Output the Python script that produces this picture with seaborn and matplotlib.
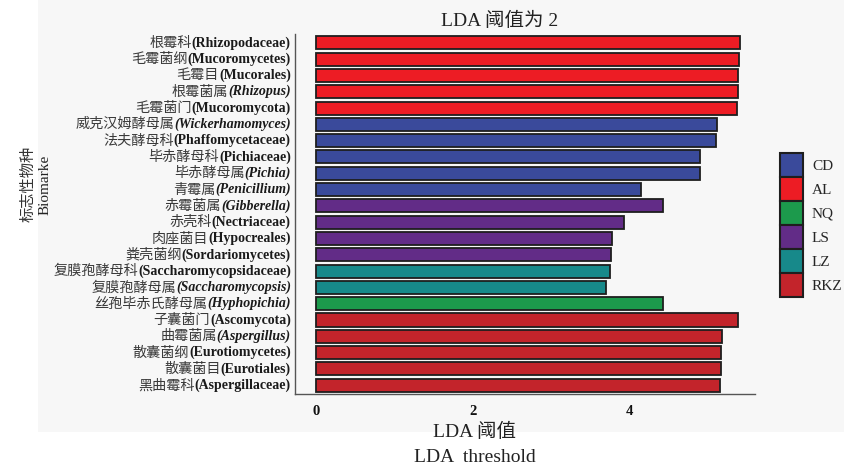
import matplotlib
matplotlib.use("Agg")
import matplotlib.pyplot as plt
import matplotlib.transforms as mtrans
from matplotlib.patches import Patch, Rectangle
import pandas as pd
import seaborn as sns

# LDA scores of the biomarker taxa (top to bottom)
cn_names = [
    "根霉科", "毛霉菌纲", "毛霉目", "根霉菌属", "毛霉菌门",
    "威克汉姆酵母属", "法夫酵母科", "毕赤酵母科", "毕赤酵母属", "青霉属",
    "赤霉菌属", "赤壳科", "肉座菌目", "粪壳菌纲",
    "复膜孢酵母科", "复膜孢酵母属", "丝孢毕赤氏酵母属",
    "子囊菌门", "曲霉菌属", "散囊菌纲", "散囊菌目", "黑曲霉科",
]
latin_names = [
    "Rhizopodaceae", "Mucoromycetes", "Mucorales", "Rhizopus", "Mucoromycota",
    "Wickerhamomyces", "Phaffomycetaceae", "Pichiaceae", "Pichia", "Penicillium",
    "Gibberella", "Nectriaceae", "Hypocreales", "Sordariomycetes",
    "Saccharomycopsidaceae", "Saccharomycopsis", "Hyphopichia",
    "Ascomycota", "Aspergillus", "Eurotiomycetes", "Eurotiales", "Aspergillaceae",
]
is_genus = [
    False, False, False, True, False,
    True, False, False, True, True,
    True, False, False, False,
    False, True, True,
    False, True, False, False, False,
]
lda_scores = [
    5.41, 5.40, 5.38, 5.38, 5.37,
    5.11, 5.10, 4.90, 4.90, 4.15,
    4.43, 3.93, 3.78, 3.77,
    3.75, 3.70, 4.43,
    5.38, 5.18, 5.17, 5.17, 5.16,
]
groups = [
    "AL", "AL", "AL", "AL", "AL",
    "CD", "CD", "CD", "CD", "CD",
    "LS", "LS", "LS", "LS",
    "LZ", "LZ", "NQ",
    "RKZ", "RKZ", "RKZ", "RKZ", "RKZ",
]
group_order = ["CD", "AL", "NQ", "LS", "LZ", "RKZ"]
group_colors = ["#3a4a9b", "#ed1c24", "#1c9a4c", "#622c87", "#17898a", "#c3242b"]
x_ticks = [0, 2, 4]

SERIF = "Liberation Serif"
CJK = "Noto Sans CJK SC"
MIXED = [SERIF, CJK]

sns.set_style("white")
plt.rcParams["font.family"] = MIXED

df = pd.DataFrame({
    "taxon": [f"{c}({l})" for c, l in zip(cn_names, latin_names)],
    "lda": lda_scores,
    "group": groups,
})
palette = dict(zip(group_order, group_colors))

W, H = 845, 466
fig = plt.figure(figsize=(W / 100, H / 100), dpi=100, facecolor="white")
# light panel behind the plot area
fig.patches.append(Rectangle((38 / W, 34 / H), 1 - 38 / W, 1 - 34 / H,
                             transform=fig.transFigure, facecolor="#f7f7f7",
                             edgecolor="none", zorder=-10))

ax = fig.add_axes([295 / W, 72 / H, (755 - 295) / W, 360 / H])
ax.set_facecolor("none")

sns.barplot(data=df, x="lda", y="taxon", hue="group", palette=palette,
            order=df["taxon"], hue_order=group_order, dodge=False,
            saturation=1, width=0.8, edgecolor="#1e1e1e", linewidth=1.3,
            orient="h", legend=False, ax=ax)

ax.set_xlim(-0.264, 5.6)
ax.set_ylim(len(df) - 1 + 0.54, -0.54)

for side in ("top", "right"):
    ax.spines[side].set_visible(False)
for side in ("left", "bottom"):
    ax.spines[side].set_color("#555555")
    ax.spines[side].set_linewidth(1.0)

ax.set_xticks(x_ticks)
ax.set_xticklabels([str(t) for t in x_ticks], fontweight="bold",
                   fontsize=10.5, family=SERIF, color="#111111")
ax.tick_params(axis="x", direction="in", length=3, width=0.9,
               color="#555555", pad=8)
ax.tick_params(axis="y", direction="in", length=4, width=0.9,
               color="#555555")
ax.set_yticklabels([])
ax.set_xlabel("")
ax.set_ylabel("")

# y labels: Chinese name followed by the bold (italic for genera) Latin name
trans = mtrans.blended_transform_factory(ax.transAxes, ax.transData)
for i, (cn, la, gen) in enumerate(zip(cn_names, latin_names, is_genus)):
    lat = ax.annotate(f"({la})", xy=(0, i), xycoords=trans,
                      xytext=(-3, 0), textcoords="offset points",
                      ha="right", va="center", fontsize=10,
                      fontweight="bold", fontstyle="italic" if gen else "normal",
                      family=SERIF, color="#1a1a1a")
    ax.annotate(cn, xy=(0, 0.5), xycoords=lat, ha="right", va="center",
                fontsize=10.2, family=CJK, color="#3a3a3a")

fig.text(500 / W, 1 - 21 / H, "LDA 阈值为 2", ha="center", va="center",
         fontsize=14, family=MIXED, color="#222222")
fig.text(475 / W, 1 - 432 / H, "LDA 阈值", ha="center", va="center",
         fontsize=14, family=MIXED, color="#222222")
fig.text(475 / W, 1 - 457 / H, "LDA  threshold", ha="center", va="center",
         fontsize=14, family=SERIF, color="#222222")
fig.text(28 / W, 1 - 184 / H, "标志性物种", ha="center", va="center",
         rotation=90, fontsize=11, family=CJK, color="#333333")
fig.text(45 / W, 1 - 185 / H, "Biomarke", ha="center", va="center",
         rotation=90, fontsize=11, family=SERIF, color="#222222")

# legend boxes stacked edge to edge
fs_leg = 11
fs_px = fs_leg * 100 / 72
handles = [Patch(facecolor=c, edgecolor="#1e1e1e", linewidth=1.5, label=g)
           for g, c in zip(group_order, group_colors)]
fig.legend(handles=handles, loc="upper left",
           bbox_to_anchor=(780 / W, 1 - 153 / H), bbox_transform=fig.transFigure,
           frameon=False, prop={"family": SERIF, "size": fs_leg},
           handlelength=23 / fs_px, handleheight=(24 / fs_px - 0.245) / 0.65,
           handletextpad=9 / fs_px,
           labelspacing=0.0, borderpad=0.0, borderaxespad=0.0)

fig.savefig("out.png", dpi=100, facecolor=fig.get_facecolor())
